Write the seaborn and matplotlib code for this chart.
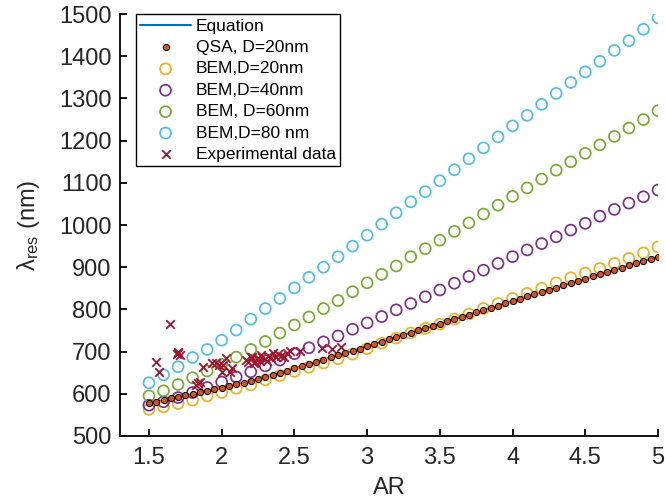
import numpy as np
import pandas as pd
import matplotlib
matplotlib.use("Agg")
import matplotlib.pyplot as plt
import seaborn as sns

# Aspect-ratio grids
ar_fine = np.round(np.arange(1.5, 5.0001, 0.05), 2)   # QSA / equation grid
ar_bem = np.round(np.arange(1.5, 5.0001, 0.1), 2)     # BEM grid

# Quasi-static approximation (D = 20 nm), also traced by the equation line
qsa_nm = [578.0, 581.6, 585.2, 588.8, 592.4, 596.0, 599.6, 603.2, 606.8, 610.4,
          614.0, 618.0, 622.0, 626.0, 630.0, 635.0, 640.0, 645.0, 650.0, 655.0,
          660.0, 665.2, 670.5, 675.8, 681.0, 686.2, 691.5, 696.8, 702.0, 707.3,
          712.7, 718.0, 723.3, 728.7, 734.0, 739.3, 744.7, 750.0, 755.3, 760.7,
          766.0, 771.4, 776.8, 782.2, 787.6, 793.0, 798.4, 803.8, 809.2, 814.6,
          820.0, 825.3, 830.6, 835.9, 841.2, 846.5, 851.8, 857.1, 862.4, 867.7,
          873.0, 878.2, 883.4, 888.6, 893.8, 899.0, 904.2, 909.4, 914.6, 919.8,
          925.0]

# Boundary element method results for several diameters
bem_d20 = [563, 569, 577, 585, 595, 603, 613, 621, 633, 643,
           653, 663, 673, 683, 694, 707, 720, 732, 744, 755,
           765, 777, 789, 802, 814, 826, 838, 850, 863, 875,
           886, 897, 909, 921, 934, 948]
bem_d40 = [573, 581, 591, 603, 615, 628, 640, 652, 666, 680,
           695, 709, 723, 737, 753, 768, 783, 799, 814, 830,
           846, 862, 878, 893, 909, 925, 941, 956, 972, 988,
           1004, 1021, 1037, 1052, 1067, 1083]
bem_d60 = [595, 607, 622, 638, 654, 670, 687, 705, 724, 744,
           763, 782, 802, 821, 842, 863, 883, 903, 925, 944,
           964, 985, 1005, 1026, 1047, 1068, 1088, 1109, 1130, 1150,
           1170, 1190, 1210, 1230, 1250, 1271]
bem_d80 = [626, 645, 664, 686, 705, 727, 751, 777, 802, 826,
           851, 876, 900, 925, 950, 976, 1002, 1029, 1055, 1079,
           1105, 1131, 1157, 1183, 1209, 1235, 1260, 1286, 1312, 1338,
           1363, 1388, 1414, 1437, 1464, 1491]

# Measured resonances
exp_ar = [1.55, 1.57, 1.645, 1.70, 1.70, 1.71, 1.69,
          1.82, 1.85, 1.84, 1.87, 1.93, 1.96, 1.98, 2.00, 2.01, 2.03, 2.07, 2.06,
          2.17, 2.18, 2.20, 2.21, 2.22, 2.23, 2.24, 2.25, 2.26, 2.27, 2.28,
          2.30, 2.31, 2.32, 2.34, 2.35, 2.37, 2.39, 2.41, 2.43, 2.45, 2.47,
          2.54, 2.69, 2.76, 2.82]
exp_nm = [676, 651, 765, 700, 696, 692, 694,
          621, 629, 626, 664, 672, 674, 668, 652, 668, 684, 662, 652,
          680, 675, 686, 688, 672, 676, 682, 684, 678, 692, 686,
          682, 677, 690, 685, 696, 687, 694, 690, 688, 697, 702,
          702, 709, 705, 712]

xticks = [1.5, 2, 2.5, 3, 3.5, 4, 4.5, 5]
xtick_labels = ["1.5", "2", "2.5", "3", "3.5", "4", "4.5", "5"]
yticks = list(range(500, 1501, 100))

sns.set_theme(style="ticks")
plt.rcParams["font.family"] = ["Liberation Sans", "DejaVu Sans"]
plt.rcParams["mathtext.fontset"] = "custom"
plt.rcParams["mathtext.rm"] = "Liberation Sans"
plt.rcParams["mathtext.default"] = "regular"

text_color = "#262626"

fig = plt.figure(figsize=(6.66, 5.04), dpi=100)
ax = fig.add_axes([0.180, 0.135, 0.808, 0.837])

sns.lineplot(x=ar_fine, y=qsa_nm, ax=ax, color="#0072BD", linewidth=1.5,
             label="Equation", zorder=2)
sns.scatterplot(x=ar_fine, y=qsa_nm, ax=ax, marker="o", s=20,
                color="#D95319", edgecolor="black", linewidth=0.7,
                label="QSA, D=20nm", zorder=7)

bem_series = [
    (bem_d20, "#EDB120", "BEM,D=20nm"),
    (bem_d40, "#7E2F8E", "BEM,D=40nm"),
    (bem_d60, "#77AC30", "BEM, D=60nm"),
    (bem_d80, "#4DBEEE", "BEM,D=80 nm"),
]
for vals, col, lab in bem_series:
    sns.scatterplot(x=ar_bem, y=vals, ax=ax, marker="o", s=62,
                    color=col, facecolor="none", edgecolor=col,
                    linewidth=1.25, label=lab, zorder=4)

sns.scatterplot(x=exp_ar, y=exp_nm, ax=ax, marker="x", s=38,
                color="#A2142F", linewidth=1.3,
                label="Experimental data", zorder=6)

ax.set_xlim(1.3, 5.0)
ax.set_ylim(500, 1500)
ax.set_xticks(xticks)
ax.set_xticklabels(xtick_labels)
ax.set_yticks(yticks)

for side in ["top", "right"]:
    ax.spines[side].set_visible(False)
for side in ["left", "bottom"]:
    ax.spines[side].set_linewidth(1.3)
    ax.spines[side].set_color("black")

ax.tick_params(direction="in", length=5, width=1.3, colors="black",
               labelcolor=text_color, labelsize=17)
ax.tick_params(axis="x", pad=8)
ax.tick_params(axis="y", pad=6)

ax.set_xlabel("AR", fontsize=17, color=text_color, labelpad=6)
ax.set_ylabel(r"λ$_{res}$ (nm)", fontsize=17, color=text_color, labelpad=12)

leg = ax.legend(loc="upper left", bbox_to_anchor=(0.03, 1.0),
                borderaxespad=0, frameon=True, fancybox=False,
                edgecolor="black", framealpha=1, fontsize=12.5,
                handlelength=2.9, handletextpad=0.3, labelspacing=0.36,
                borderpad=0.25)
leg.get_frame().set_linewidth(1.0)
for t in leg.get_texts():
    t.set_color("black")

fig.savefig("out.png", dpi=100)
